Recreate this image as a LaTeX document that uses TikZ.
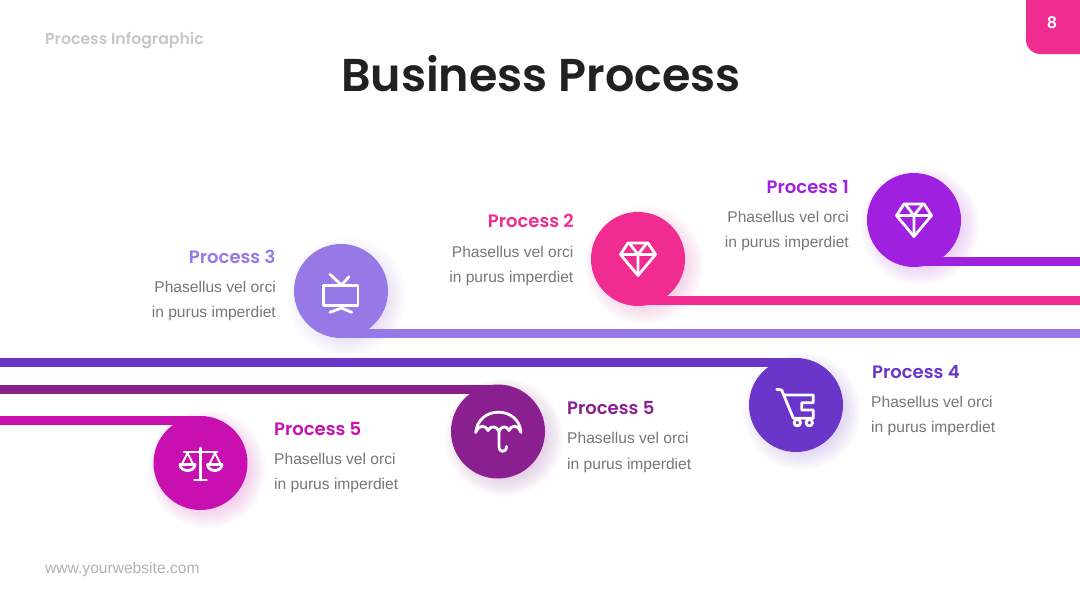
\documentclass[tikz,border=0pt]{standalone}
\usepackage{fontspec}
\setmainfont{Liberation Sans}
\newfontfamily\popsb{Poppins SemiBold}
\definecolor{cA}{HTML}{A020E0}
\definecolor{cB}{HTML}{F02C90}
\definecolor{cC}{HTML}{9678E6}
\definecolor{cD}{HTML}{6A35C8}
\definecolor{cE}{HTML}{8A2090}
\definecolor{cF}{HTML}{C810B0}
\definecolor{body}{HTML}{777777}
\tikzset{
  disc/.style={circle,minimum size=94pt,inner sep=0pt,fill=#1},
  track/.style={line width=9pt,draw=#1},
  icon/.style={draw=white,line width=2.8pt,line join=round,line cap=round},
  head/.style={font=\popsb\fontsize{18}{18}\selectfont,text=#1,inner sep=0pt},
  copyline/.style={font=\fontsize{15.6}{16}\selectfont,text=body,inner sep=0pt}
}
\newcommand{\softshadow}[3]{%
  \foreach \r in {59,57,55,53,51,49,47,45,43,41}{\fill[#3,opacity=.02] (#1+6,#2+6) circle[radius=\r pt];}}
\newcommand{\gemicon}[1]{%
  \begin{scope}[shift={(#1.center)}]
    \draw[icon] (-10,-16) -- (10,-16) -- (17.5,-4.5) -- (0,16.5) -- (-17.5,-4.5) -- cycle;
    \draw[icon] (-17.5,-4.5) -- (17.5,-4.5) (-8.5,-15.5) -- (0,-4.5) -- (8.5,-15.5) (0,-4.5) -- (0,16.5);
  \end{scope}}
\begin{document}
\begin{tikzpicture}[x=1pt,y=-1pt]
\useasboundingbox (0,0) rectangle (1080,608);
\fill[white] (0,0) rectangle (1080,608);
% corner tab
\fill[cB,rounded corners=14pt] (1026,-20) -- (1026,54) -- (1100,54) -- (1100,-20) -- cycle;
\node[font=\popsb\fontsize{16}{16}\selectfont,text=white,inner sep=0pt] (pagenum) at (1052,23) {8};
% headers
\node[anchor=base west,font=\popsb\fontsize{15.7}{16}\selectfont,text=black!22,inner sep=0pt] (kicker) at (45,44) {Process Infographic};
\node[anchor=base,font=\popsb\fontsize{46}{46}\selectfont,text=black!87,inner sep=0pt] (title) at (541,91) {Business Process};
\node[anchor=base west,font=\fontsize{15.6}{16}\selectfont,text=black!30,inner sep=0pt] (site) at (45,573) {www.yourwebsite.com};
% shadows
\softshadow{914}{220}{cA}
\softshadow{638}{259}{cB}
\softshadow{341}{291}{cC}
\softshadow{796}{405}{cD}
\softshadow{498}{431.5}{cE}
\softshadow{200.5}{463}{cF}
% discs
\node[disc=cA] (p1) at (914,220) {};
\node[disc=cB] (p2) at (638,259) {};
\node[disc=cC] (p3) at (341,291) {};
\node[disc=cD] (p4) at (796,405) {};
\node[disc=cE] (p5) at (498,431.5) {};
\node[disc=cF] (p6) at (200.5,463) {};
% track ends
\coordinate (e1) at (1080,261.7);
\coordinate (e2) at (1080,300.5);
\coordinate (e3) at (1080,333.5);
\coordinate (e4) at (0,362.5);
\coordinate (e5) at (0,389.5);
\coordinate (e6) at (0,420.5);
\draw[track=cA] (p1.center) |- (e1);
\draw[track=cB] (p2.center) |- (e2);
\draw[track=cC] (p3.center) |- (e3);
\draw[track=cD] (p4.center) |- (e4);
\draw[track=cE] (p5.center) |- (e5);
\draw[track=cF] (p6.center) |- (e6);
% icons
\gemicon{p1}
\gemicon{p2}
\begin{scope}[shift={(p3.center)}]
  \draw[icon] (-17.5,-5.5) rectangle (17,14.5);
  \draw[icon] (-11,-16.7) -- (0.5,-6) -- (8,-14.3);
  \draw[icon] (-11,21.3) -- (0.5,17) -- (10.7,21.3);
\end{scope}
\begin{scope}[shift={(p4.center)}]
  \draw[icon] (-19.3,-15.7) -- (-14.3,-15) -- (-2.7,13.3) -- (17.3,13.3) -- (17.3,5) -- (5.7,5) -- (5.7,-2.3) -- (17.3,-2.3) -- (17.3,-10) -- (-12.7,-10);
  \draw[icon] (1.3,17.7) circle[radius=3.2pt] (13.3,17.7) circle[radius=3.2pt];
\end{scope}
\begin{scope}[shift={(p5.center)}]
  \draw[icon] (-22.3,1) .. controls (-21,-12) and (-11,-19.3) .. (0.5,-19.3) .. controls (12,-19.3) and (22,-12) .. (23,1)
     .. controls (20,-7) and (14,-7) .. (11,-1) .. controls (9,-6) and (3,-6) .. (1,0) .. controls (-1,-6) and (-8,-6) .. (-10,-1) .. controls (-13,-7) and (-19,-7) .. (-22.3,1) -- cycle;
  \draw[icon] (1,0) -- (1,15) .. controls (1,21.5) and (8.5,21.5) .. (8.5,15);
\end{scope}
\begin{scope}[shift={(p6.center)}]
  \draw[icon] (0,-15) -- (0,17) (-6,17) -- (6,17) (-16.5,-11) -- (16.5,-11);
  \draw[icon] (-20.5,1.5) -- (-5.5,1.5) .. controls (-6,9.5) and (-20,9.5) .. (-20.5,1.5) -- cycle;
  \draw[icon] (7,1.5) -- (21.5,1.5) .. controls (21,9.5) and (7.5,9.5) .. (7,1.5) -- cycle;
  \draw[icon,line width=2pt] (-18.5,1) -- (-13,-10) -- (-7.5,1) (9,1) -- (14.5,-10) -- (20,1);
\end{scope}
% labels
\node[head=cA,anchor=base east] (h1) at (849,193) {Process 1};
\node[copyline,anchor=base east] (a1) at (849,222.5) {Phasellus vel orci};
\node[copyline,anchor=base east] (b1) at (849,247.5) {in purus imperdiet};
\node[head=cB,anchor=base east] (h2) at (574,227) {Process 2};
\node[copyline,anchor=base east] (a2) at (573.5,257.5) {Phasellus vel orci};
\node[copyline,anchor=base east] (b2) at (573.5,282.5) {in purus imperdiet};
\node[head=cC,anchor=base east] (h3) at (275.5,263) {Process 3};
\node[copyline,anchor=base east] (a3) at (276,292.5) {Phasellus vel orci};
\node[copyline,anchor=base east] (b3) at (276,317.5) {in purus imperdiet};
\node[head=cD,anchor=base west] (h4) at (872,378) {Process 4};
\node[copyline,anchor=base west] (a4) at (871,407.5) {Phasellus vel orci};
\node[copyline,anchor=base west] (b4) at (871,432.5) {in purus imperdiet};
\node[head=cE,anchor=base west] (h5) at (567,414) {Process 5};
\node[copyline,anchor=base west] (a5) at (567,443.5) {Phasellus vel orci};
\node[copyline,anchor=base west] (b5) at (567,469.5) {in purus imperdiet};
\node[head=cF,anchor=base west] (h6) at (274,435) {Process 5};
\node[copyline,anchor=base west] (a6) at (274,464.5) {Phasellus vel orci};
\node[copyline,anchor=base west] (b6) at (274,489.5) {in purus imperdiet};
\end{tikzpicture}
\end{document}
